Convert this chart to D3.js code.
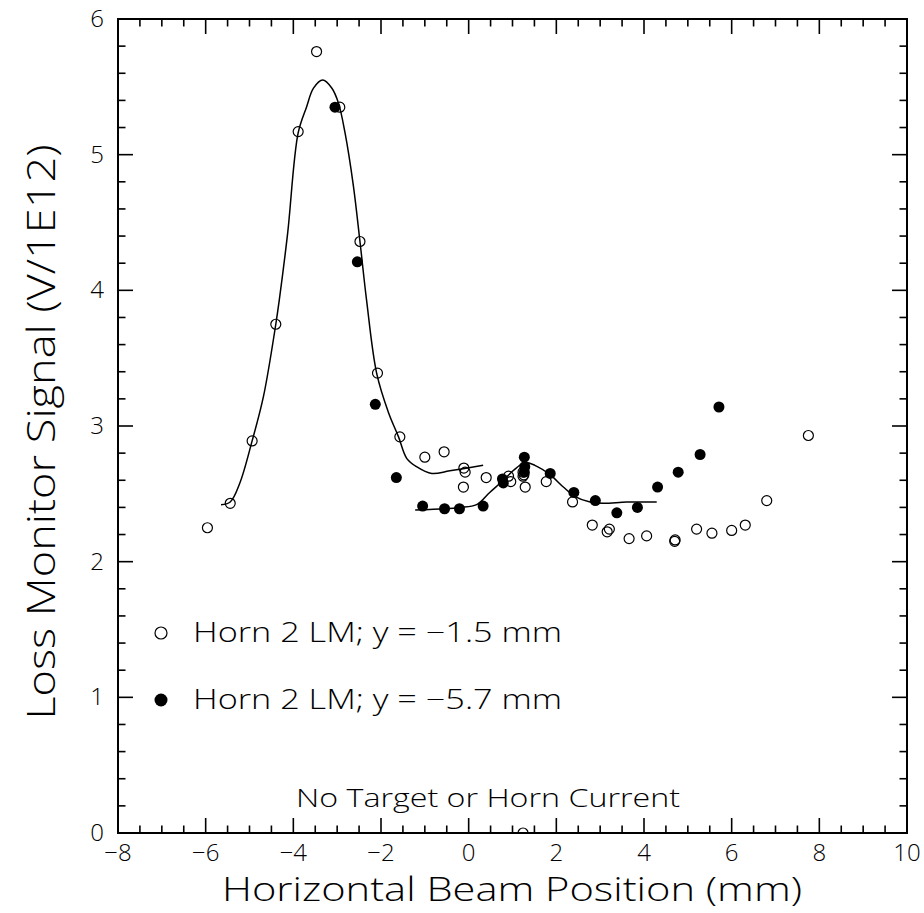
<!DOCTYPE html>
<html>
<head>
<meta charset="utf-8">
<script src="https://cdn.jsdelivr.net/npm/d3@7"></script>
<style>
  html, body { margin: 0; padding: 0; background: #fff; }
  svg text { font-family: "Open Sans", "DejaVu Sans", sans-serif; font-weight: 300; fill: #000; }
</style>
</head>
<body>
<svg id="chart" width="924" height="913"></svg>
<script>
// ---- Data ----
const openX = [-5.96, -5.44, -4.94, -4.40, -3.89, -3.47, -2.94, -2.48, -2.08, -1.57, -1.00, -0.56, -0.11, -0.08, -0.12, 0.40, 0.91, 0.96, 1.24, 1.26, 1.24, 1.29, 1.77, 2.37, 2.82, 3.16, 3.21, 3.66, 4.06, 4.70, 4.71, 5.20, 5.55, 6.00, 6.31, 6.80, 7.75, 1.24];
const openY = [2.25, 2.43, 2.89, 3.75, 5.17, 5.76, 5.35, 4.36, 3.39, 2.92, 2.77, 2.81, 2.69, 2.66, 2.55, 2.62, 2.63, 2.59, 2.66, 2.64, 2.63, 2.55, 2.59, 2.44, 2.27, 2.22, 2.24, 2.17, 2.19, 2.15, 2.16, 2.24, 2.21, 2.23, 2.27, 2.45, 2.93, 0.0];

const filledX = [-3.05, -2.54, -2.13, -1.65, -1.05, -0.55, -0.21, 0.33, 0.77, 0.79, 1.27, 1.28, 1.27, 1.86, 2.40, 2.89, 3.38, 3.85, 4.31, 4.78, 5.28, 5.71];
const filledY = [5.35, 4.21, 3.16, 2.62, 2.41, 2.39, 2.39, 2.41, 2.61, 2.58, 2.77, 2.70, 2.66, 2.65, 2.51, 2.45, 2.36, 2.40, 2.55, 2.66, 2.79, 3.14];

// fit curve for the y = -1.5 mm data
const fitOpenX = [-5.65, -5.44, -5.22, -4.94, -4.68, -4.40, -4.32, -4.13, -3.89, -3.70, -3.54, -3.33, -3.12, -2.97, -2.82, -2.63, -2.48, -2.33, -2.10, -1.83, -1.60, -1.41, -1.19, -0.84, -0.43, 0.33];
const fitOpenY = [2.42, 2.44, 2.58, 2.89, 3.22, 3.75, 3.93, 4.42, 5.16, 5.35, 5.49, 5.55, 5.49, 5.38, 5.16, 4.77, 4.36, 3.93, 3.39, 3.10, 2.92, 2.76, 2.70, 2.65, 2.67, 2.71];

// fit curve for the y = -5.7 mm data
const fitFilledX = [-1.22, -0.54, -0.20, 0.18, 0.48, 0.79, 1.05, 1.28, 1.51, 1.86, 2.16, 2.43, 2.77, 3.07, 3.60, 4.13, 4.29];
const fitFilledY = [2.38, 2.39, 2.40, 2.42, 2.51, 2.60, 2.68, 2.73, 2.71, 2.64, 2.55, 2.48, 2.44, 2.43, 2.44, 2.44, 2.44];

const xMajorTicks = [-8, -6, -4, -2, 0, 2, 4, 6, 8, 10];
const yMajorTicks = [0, 1, 2, 3, 4, 5, 6];
const legendLabels = ["Horn 2 LM; y = \u22121.5 mm", "Horn 2 LM; y = \u22125.7 mm"];
const noteText = "No Target or Horn Current";
const xTitle = "Horizontal Beam Position (mm)";
const yTitle = "Loss Monitor Signal (V/1E12)";

// ---- Layout ----
const svg = d3.select("#chart");
const L = 118, R = 907, T = 19, B = 833;
const x = d3.scaleLinear().domain([-8, 10]).range([L, R]);
const y = d3.scaleLinear().domain([0, 6]).range([B, T]);

const xMinor = d3.range(-8, 10.001, 0.5).filter(v => Math.abs(v / 2 - Math.round(v / 2)) > 1e-6);
const yMinor = d3.range(0, 6.001, 0.2).filter(v => Math.abs(v - Math.round(v)) > 1e-6);

const MAJ = 15, MIN = 7.5;
const gt = svg.append("g").attr("stroke", "#000").attr("stroke-width", 1.6);
xMajorTicks.forEach(v => {
  gt.append("line").attr("x1", x(v)).attr("x2", x(v)).attr("y1", B).attr("y2", B - MAJ);
  gt.append("line").attr("x1", x(v)).attr("x2", x(v)).attr("y1", T).attr("y2", T + MAJ);
});
xMinor.forEach(v => {
  gt.append("line").attr("x1", x(v)).attr("x2", x(v)).attr("y1", B).attr("y2", B - MIN);
  gt.append("line").attr("x1", x(v)).attr("x2", x(v)).attr("y1", T).attr("y2", T + MIN);
});
yMajorTicks.forEach(v => {
  gt.append("line").attr("x1", L).attr("x2", L + MAJ).attr("y1", y(v)).attr("y2", y(v));
  gt.append("line").attr("x1", R).attr("x2", R - MAJ).attr("y1", y(v)).attr("y2", y(v));
});
yMinor.forEach(v => {
  gt.append("line").attr("x1", L).attr("x2", L + MIN).attr("y1", y(v)).attr("y2", y(v));
  gt.append("line").attr("x1", R).attr("x2", R - MIN).attr("y1", y(v)).attr("y2", y(v));
});

// frame
svg.append("rect").attr("x", L).attr("y", T).attr("width", R - L).attr("height", B - T)
  .attr("fill", "none").attr("stroke", "#000").attr("stroke-width", 2);

// tick labels
svg.append("g").selectAll("text").data(xMajorTicks).join("text")
  .attr("x", d => x(d)).attr("y", 861).attr("text-anchor", "middle")
  .attr("font-size", 24).text(d => d < 0 ? "\u2212" + Math.abs(d) : d);
svg.append("g").selectAll("text").data(yMajorTicks).join("text")
  .attr("x", 104).attr("y", d => y(d) + 8).attr("text-anchor", "end")
  .attr("font-size", 24).text(d => d);

// axis titles
svg.append("text").attr("x", 512).attr("y", 901).attr("text-anchor", "middle")
  .attr("font-size", 33).attr("textLength", 580).attr("lengthAdjust", "spacingAndGlyphs").text(xTitle);
svg.append("text").attr("transform", "translate(55,432) rotate(-90)").attr("text-anchor", "middle")
  .attr("font-size", 38).attr("textLength", 575).attr("lengthAdjust", "spacingAndGlyphs").text(yTitle);

// clip
svg.append("clipPath").attr("id", "clip").append("rect")
  .attr("x", L).attr("y", T).attr("width", R - L).attr("height", B - T);
const plot = svg.append("g").attr("clip-path", "url(#clip)");

// fit curves
const line = d3.line().x(d => x(d[0])).y(d => y(d[1])).curve(d3.curveCatmullRom.alpha(0.5));
plot.append("path").datum(d3.zip(fitOpenX, fitOpenY)).attr("d", line)
  .attr("fill", "none").attr("stroke", "#000").attr("stroke-width", 1.5);
plot.append("path").datum(d3.zip(fitFilledX, fitFilledY)).attr("d", line)
  .attr("fill", "none").attr("stroke", "#000").attr("stroke-width", 1.5);

// points
plot.append("g").selectAll("circle").data(d3.zip(openX, openY)).join("circle")
  .attr("cx", d => x(d[0])).attr("cy", d => y(d[1])).attr("r", 5)
  .attr("fill", "none").attr("stroke", "#000").attr("stroke-width", 1.2);
plot.append("g").selectAll("circle").data(d3.zip(filledX, filledY)).join("circle")
  .attr("cx", d => x(d[0])).attr("cy", d => y(d[1])).attr("r", 5.5)
  .attr("fill", "#000").attr("stroke", "none");

// legend
const legY = [633, 700];
svg.append("circle").attr("cx", 161).attr("cy", legY[0]).attr("r", 6)
  .attr("fill", "none").attr("stroke", "#000").attr("stroke-width", 1.2);
svg.append("circle").attr("cx", 161).attr("cy", legY[1]).attr("r", 6.5).attr("fill", "#000");
legendLabels.forEach((t, i) => {
  svg.append("text").attr("x", 193).attr("y", legY[i] + 9).attr("font-size", 27)
    .attr("textLength", 369).attr("lengthAdjust", "spacingAndGlyphs").text(t);
});

// note
svg.append("text").attr("x", 488).attr("y", 807).attr("text-anchor", "middle").attr("font-size", 26)
  .attr("textLength", 384).attr("lengthAdjust", "spacingAndGlyphs").text(noteText);
</script>
</body>
</html>
